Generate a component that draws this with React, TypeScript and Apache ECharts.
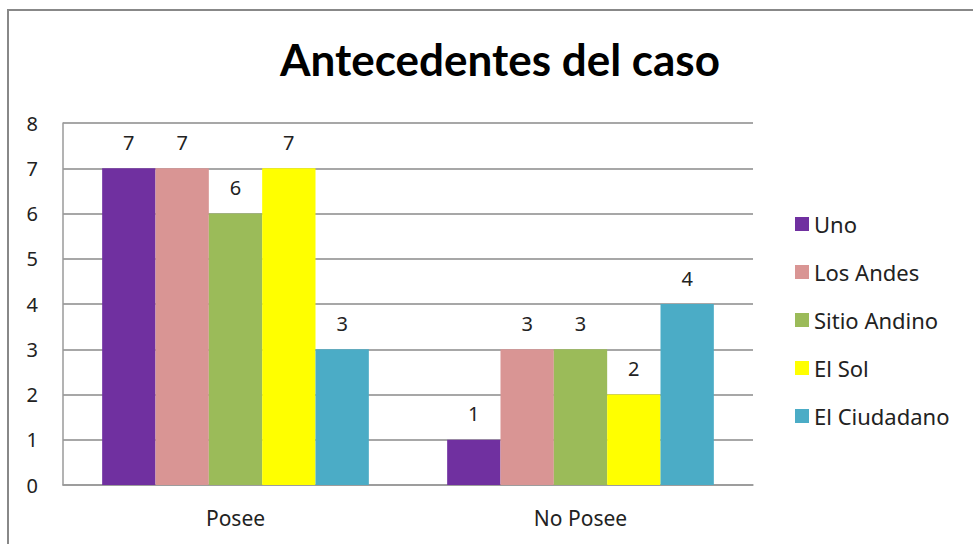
import React, { useEffect, useRef } from "react";
import * as echarts from "echarts";

const categories = ["Posee", "No Posee"];
const seriesNames = ["Uno", "Los Andes", "Sitio Andino", "El Sol", "El Ciudadano"];
const uno = [7, 1];
const losAndes = [7, 3];
const sitioAndino = [6, 3];
const elSol = [7, 2];
const elCiudadano = [3, 4];
const colors = ["#7030A0", "#D99594", "#9BBB59", "#FFFF00", "#4BACC6"];
const yTicks = [0, 1, 2, 3, 4, 5, 6, 7, 8];

const FONT = "'Noto Sans', sans-serif";

export default function App() {
  const ref = useRef<HTMLDivElement>(null);
  useEffect(() => {
    if (!ref.current) return;
    const chart = echarts.init(ref.current, null, { renderer: "svg" });
    const values = [uno, losAndes, sitioAndino, elSol, elCiudadano];
    chart.setOption({
      animation: false,
      backgroundColor: "#ffffff",
      title: {
        text: "Antecedentes del caso",
        left: 495,
        textAlign: "center",
        top: 32,
        textStyle: { fontFamily: "Lato, sans-serif", fontWeight: "bold", fontSize: 44, color: "#000" },
      },
      graphic: [
        {
          type: "rect",
          shape: { x: 8, y: 10, width: 1000, height: 600 },
          style: { fill: "none", stroke: "#888888", lineWidth: 2 },
          silent: true,
        },
      ],
      legend: {
        orient: "vertical",
        left: 795,
        top: 213,
        padding: 0,
        itemWidth: 14,
        itemHeight: 14,
        itemGap: 26,
        icon: "rect",
        textStyle: { fontFamily: FONT, fontSize: 22, color: "#222" },
        data: seriesNames,
      },
      grid: { left: 63, right: 220, top: 123, bottom: 59, containLabel: false },
      xAxis: {
        type: "category",
        data: categories,
        axisTick: { show: false },
        axisLine: { show: true, lineStyle: { color: "#9a9a9a", width: 1.5 } },
        axisLabel: { fontFamily: FONT, fontSize: 21, color: "#222", margin: 22 },
      },
      yAxis: {
        type: "value",
        min: yTicks[0],
        max: yTicks[yTicks.length - 1],
        interval: 1,
        axisLine: { show: true, lineStyle: { color: "#9a9a9a", width: 1.5 } },
        axisTick: { show: false },
        splitLine: { show: true, lineStyle: { color: "#8a8a8a", width: 1.5 } },
        axisLabel: { fontFamily: FONT, fontSize: 20, color: "#222", margin: 25 },
      },
      series: seriesNames.map((name, i) => ({
        name,
        type: "bar",
        data: values[i],
        itemStyle: { color: colors[i] },
        barGap: "0%",
        barCategoryGap: "22.7%",
        label: {
          show: true,
          position: "top",
          distance: 16,
          fontFamily: FONT,
          fontSize: 20,
          color: "#222",
        },
      })),
    });
    return () => chart.dispose();
  }, []);
  return (
    <div
      ref={ref}
      style={{ position: "absolute", left: 0, top: 0, width: 973, height: 544 }}
    />
  );
}
